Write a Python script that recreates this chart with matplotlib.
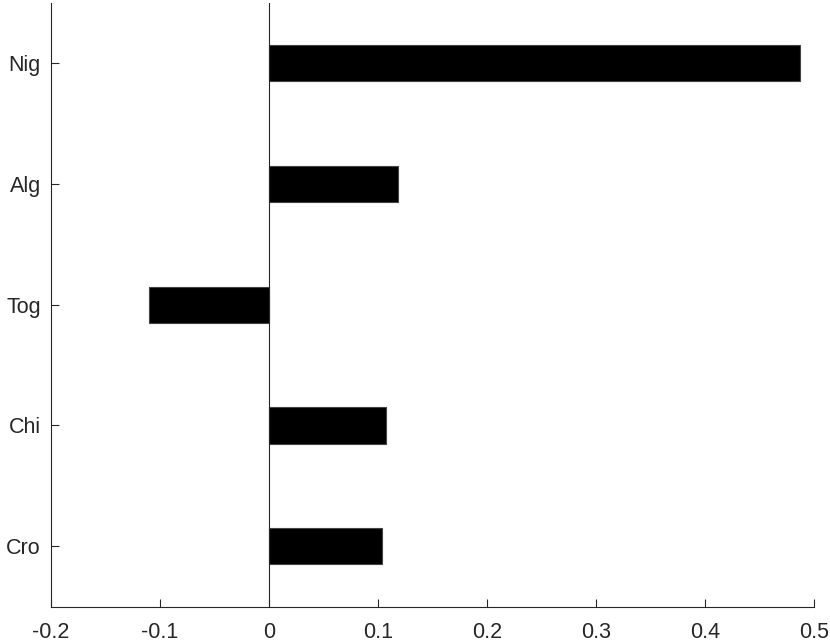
import matplotlib
matplotlib.use("Agg")
import matplotlib.pyplot as plt

categories = ["Cro", "Chi", "Tog", "Alg", "Nig"]
values = [0.1037, 0.1073, -0.110, 0.118, 0.487]
xticks = [-0.2, -0.1, 0, 0.1, 0.2, 0.3, 0.4, 0.5]
xticklabels = ["-0.2", "-0.1", "0", "0.1", "0.2", "0.3", "0.4", "0.5"]

plt.rcParams["font.family"] = ["Liberation Sans", "DejaVu Sans"]

fig = plt.figure(figsize=(8.3, 6.43), dpi=100)
ax = fig.add_axes([50.7 / 830, 36.5 / 643, (814.3 - 50.7) / 830, (606.5 - 3) / 643])

pos = list(range(1, len(categories) + 1))
ax.barh(pos, values, height=0.3, color="black", edgecolor="#444444", linewidth=0.8, zorder=2)
ax.axvline(0, color="#262626", linewidth=0.8, zorder=3)

ax.set_xlim(-0.2, 0.5)
ax.set_ylim(0.5, 5.5)
ax.set_xticks(xticks)
ax.set_xticklabels(xticklabels)
ax.set_yticks(pos)
ax.set_yticklabels(categories)

for s in ["top", "right"]:
    ax.spines[s].set_visible(False)
for s in ["left", "bottom"]:
    ax.spines[s].set_color("#262626")
    ax.spines[s].set_linewidth(0.8)

ax.tick_params(axis="both", direction="in", length=6, width=0.8, color="#262626",
               labelsize=15.5, labelcolor="#262626")
ax.tick_params(axis="x", pad=11)
ax.tick_params(axis="y", pad=7)

fig.savefig("out.png", dpi=100)
